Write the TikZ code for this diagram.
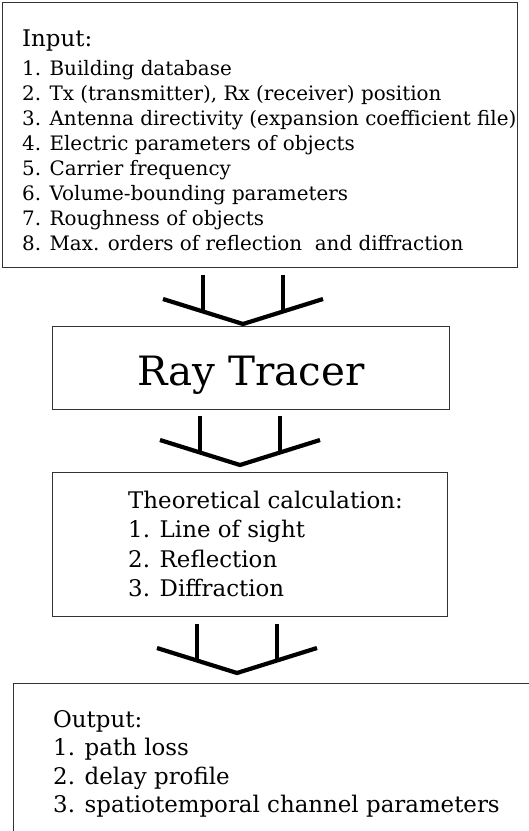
\documentclass[tikz,border=0pt]{standalone}
\usepackage{fontspec}
\setmainfont{DejaVu Serif}
\usetikzlibrary{calc}

\begin{document}
\begin{tikzpicture}[x=1pt, y=-1pt,
        box/.style={draw=black!80, line width=1pt, inner sep=0pt, anchor=north west},
        smalltext/.style={font=\fontsize{19.9}{25}\selectfont, align=left, anchor=base west, inner sep=0pt},
        midtext/.style={font=\fontsize{22.9}{29.5}\selectfont, align=left, anchor=base west, inner sep=0pt},
        bigtext/.style={font=\fontsize{40.4}{48}\selectfont, anchor=base, inner sep=0pt},
        fork/.style={line width=4.2pt, black}]

        % ==== FRAME ====
        \useasboundingbox (0,0) rectangle (529,831);
        \clip (0,0) rectangle (529,831);

        % ==== BOXES ====
        \node[box, minimum width=515pt, minimum height=265pt] (input) at (2,2) {};
        \node[box, minimum width=397pt, minimum height=83pt] (tracer) at (52,326) {};
        \node[box, minimum width=395pt, minimum height=144pt] (theory) at (52,472) {};
        \node[box, minimum width=600pt, minimum height=300pt] (output) at (13,683) {};

        % ==== INPUT TEXT (placed at last baseline) ====
        \node[midtext] (inhead) at (22,46) {Input:};
        \node[smalltext] (inlist) at (22,250) {1. Building database\\
            2. Tx (transmitter), Rx (receiver) position\\
            3. Antenna directivity (expansion coefficient file)\\
            4. Electric parameters of objects\\
            5. Carrier frequency\\
            6. Volume-bounding parameters\\
            7. Roughness of objects\\
            8. Max. orders of reflection\ \ and diffraction};

        % ==== RAY TRACER ====
        \node[bigtext] (tracetext) at ([yshift=-17.5pt]tracer.center) {Ray Tracer};

        % ==== THEORY AND OUTPUT TEXT ====
        \node[midtext] (theotext) at (128,596.5) {Theoretical calculation:\\
            1. Line of sight\\
            2. Reflection\\
            3. Diffraction};
        \node[midtext, font=\fontsize{22.9}{28.5}\selectfont] (outtext) at (53,812.5) {Output:\\
            1. path loss\\
            2. delay profile\\
            3. spatiotemporal channel parameters};

        % ==== FORK ARROWS ====
        \foreach \tx/\ty/\n in {243/324/a, 240/465/b, 237/673/c}{
            \coordinate (tip\n) at (\tx,\ty);
            \coordinate (left\n) at (\tx-80,\ty-25);
            \coordinate (right\n) at (\tx+80,\ty-25);
            \coordinate (joinL\n) at ($(left\n)!0.5!(tip\n)$);
            \coordinate (joinR\n) at ($(tip\n)!0.5!(right\n)$);
            \draw[fork] (left\n) -- (tip\n) -- (right\n);
            \draw[fork] (joinL\n) ++(0,-37) -- (joinL\n);
            \draw[fork] (joinR\n) ++(0,-37) -- (joinR\n);
        }

    \end{tikzpicture}
\end{document}
